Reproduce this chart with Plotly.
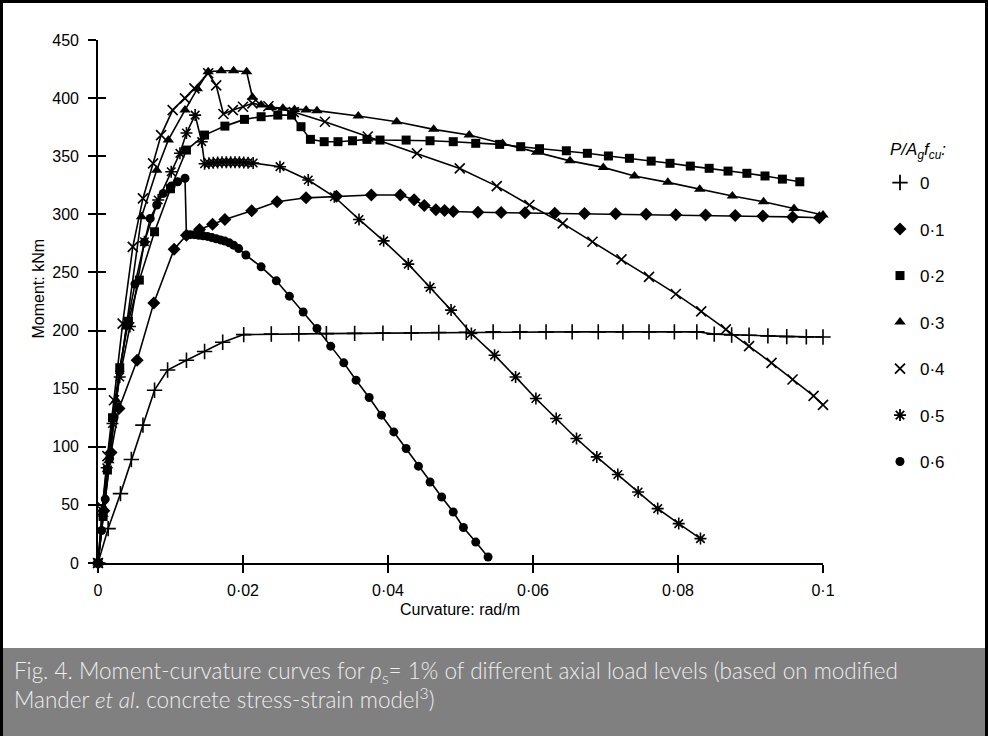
import plotly.graph_objects as go

# ---------------- data ----------------
x_tick_vals = [0, 0.02, 0.04, 0.06, 0.08, 0.1]
x_tick_text = ["0", "0·02", "0·04", "0·06", "0·08", "0·1"]
y_tick_vals = [0, 50, 100, 150, 200, 250, 300, 350, 400, 450]

labels = ["0", "0·1", "0·2", "0·3", "0·4", "0·5", "0·6"]

s0_x = [0, 0.0014, 0.0031, 0.0046, 0.0062, 0.0078, 0.0096, 0.0122, 0.0147, 0.0172, 0.0201,
        0.0239, 0.0277, 0.0315, 0.0354, 0.0393, 0.0432, 0.0470, 0.0508, 0.0545, 0.0582, 0.0618,
        0.0654, 0.0690, 0.0724, 0.0760, 0.0795, 0.0826, 0.0850, 0.0874, 0.0898, 0.0924, 0.0950,
        0.0977, 0.1000]
s0_y = [0, 29.6, 59.7, 89, 118.6, 148.7, 166, 174.5, 182, 190, 196.5,
        197, 197.2, 197.4, 197.6, 197.8, 198, 198.3, 198.6, 198.9, 198.9, 198.9,
        198.9, 198.9, 198.9, 198.9, 198.9, 198.9, 196.9, 196.2, 196, 195.4, 194.8,
        194.6, 194.5]

s1_x = [0, 0.0008, 0.0018, 0.0029, 0.0054, 0.0077, 0.0105, 0.0122, 0.0140, 0.0158, 0.0175,
        0.0212, 0.0247, 0.0287, 0.0329, 0.0377, 0.0417, 0.0436, 0.0450, 0.0466, 0.0478, 0.0490,
        0.0524, 0.0556, 0.0589, 0.0630, 0.0671, 0.0714, 0.0756, 0.0797, 0.0838, 0.0879, 0.0917,
        0.0958, 0.0995]
s1_y = [0, 45, 95, 133, 174.5, 223.8, 270, 282, 287, 291.5, 295.6,
        303, 310.8, 314.2, 315.5, 316.6, 316.6, 312.6, 307.5, 304, 303.3, 302.5,
        301.8, 301.5, 301.3, 301, 300.7, 300.4, 300, 299.7, 299.4, 299, 298.5,
        297.8, 297]

s2_x = [0, 0.0007, 0.0013, 0.0020, 0.0030, 0.0042, 0.0057, 0.0078, 0.0100, 0.0122, 0.0147,
        0.0175, 0.0202, 0.0225, 0.0248, 0.0267, 0.0280, 0.0293, 0.0312, 0.0331, 0.0351, 0.0371,
        0.0389, 0.0425, 0.0458, 0.0490, 0.0521, 0.0554, 0.0583, 0.0609, 0.0646, 0.0675, 0.0704,
        0.0733, 0.0763, 0.0789, 0.0817, 0.0843, 0.0869, 0.0895, 0.0920, 0.0944, 0.0968]
s2_y = [0, 40, 80, 125, 168, 208, 243.4, 285, 322, 355.3, 368.2,
        375.9, 381.7, 384, 385.4, 385.4, 375.4, 364.5, 362.5, 362.5, 363.3, 364.5,
        363.9, 363.9, 363.3, 362.5, 361.1, 360.2, 358.2, 356.5, 354.7, 352.5, 350.2,
        348.2, 345.8, 343.9, 341.5, 339.6, 337.2, 335.3, 333, 330.3, 328]

s3_x = [0, 0.0007, 0.0015, 0.0025, 0.0039, 0.0060, 0.0081, 0.0097, 0.0120, 0.0137, 0.0152,
        0.0170, 0.0187, 0.0205, 0.0213, 0.0225, 0.0239, 0.0255, 0.0271, 0.0287, 0.0302, 0.0359,
        0.0412, 0.0463, 0.0512, 0.0558, 0.0605, 0.0651, 0.0697, 0.0740, 0.0786, 0.0830, 0.0875,
        0.0918, 0.0960, 0.1000]
s3_y = [0, 42, 88, 140, 203, 298, 338, 364, 389.7, 408, 422.7,
        423.6, 423.6, 422.7, 400.7, 394, 392, 391.2, 390.3, 389.7, 389.2, 384.6,
        379.7, 373.1, 368.2, 361, 353.5, 346, 340.4, 333, 327.5, 321.5, 315.7,
        310.8, 305.1, 299.4]

s4_x = [0, 0.0006, 0.0013, 0.0022, 0.0034, 0.0048, 0.0062, 0.0076, 0.0087, 0.0103, 0.0120,
        0.0133, 0.0152, 0.0163, 0.0173, 0.0186, 0.0200, 0.0213, 0.0235, 0.0270, 0.0313, 0.0372,
        0.0440, 0.0499, 0.0550, 0.0595, 0.0641, 0.0682, 0.0722, 0.0760, 0.0797, 0.0832, 0.0866,
        0.0898, 0.0929, 0.0958, 0.0987, 0.1000]
s4_y = [0, 48, 92, 140, 206, 272, 313.7, 343.9, 368.2, 389.7, 399.8,
        408.4, 421.4, 411, 386.3, 389.7, 392.6, 395.5, 393, 388, 379.7, 367,
        352.5, 339.5, 324.3, 308, 292.2, 276.4, 261.2, 246.2, 231.5, 216.5, 201,
        186.6, 172.2, 157.9, 143.8, 136]

s5_x = [0, 0.0006, 0.0012, 0.0020, 0.0030, 0.0044, 0.0064, 0.0083, 0.0101, 0.0113, 0.0122,
        0.0134, 0.0143, 0.0147, 0.0153, 0.0159, 0.0165, 0.0171, 0.0177, 0.0183, 0.0189, 0.0195,
        0.0201, 0.0207, 0.0214, 0.0251, 0.0290, 0.0326, 0.0360, 0.0394, 0.0428, 0.0458, 0.0487,
        0.0515, 0.0547, 0.0576, 0.0604, 0.0632, 0.0660, 0.0688, 0.0717, 0.0745, 0.0772, 0.0801,
        0.0831]
s5_y = [0, 45, 82, 120, 160, 203.5, 276.4, 312.3, 336.6, 352.5, 370,
        385.4, 362.5, 343.5, 344, 344.4, 344.6, 344.8, 344.8, 344.8, 344.8, 344.8,
        344.6, 344.4, 344.2, 341, 329.5, 315.1, 295.6, 277.2, 257.2, 237.1, 217.6,
        197.5, 178.8, 160.1, 141.5, 124.3, 107.1, 91.3, 76.1, 61.1, 46.8, 33.9,
        21]

s6_x = [0, 0.0005, 0.0010, 0.0016, 0.0022, 0.0030, 0.0040, 0.0051, 0.0064, 0.0072, 0.0081,
        0.0090, 0.0101, 0.0110, 0.0120, 0.0122, 0.0127, 0.0133, 0.0139, 0.0145, 0.0151, 0.0157,
        0.0163, 0.0169, 0.0175, 0.0181, 0.0187, 0.0194, 0.0204, 0.0225, 0.0246, 0.0264, 0.0283,
        0.0302, 0.0321, 0.0339, 0.0356, 0.0374, 0.0391, 0.0408, 0.0425, 0.0442, 0.0458, 0.0474,
        0.0490, 0.0504, 0.0521, 0.0538]
s6_y = [0, 28, 55, 90, 125, 165, 205, 240, 276, 296.5, 308,
        318, 324.3, 328, 331, 282, 282.5, 282.5, 282, 281.5, 281, 280,
        279, 278, 277, 275.5, 273.5, 270.5, 265, 254.8, 242.8, 229.6, 216,
        201.8, 186.6, 172.2, 157.3, 142.4, 127.2, 112.8, 98.5, 83.3, 69.7, 56.8,
        43.9, 30.5, 18, 5.2]

xs_all = [s0_x, s1_x, s2_x, s3_x, s4_x, s5_x, s6_x]
ys_all = [s0_y, s1_y, s2_y, s3_y, s4_y, s5_y, s6_y]

caption = ("Fig. 4. Moment-curvature curves for <i>ρ</i><sub>s</sub>= 1% of different axial load levels (based on modified"
           "<br>Mander <i>et al</i>. concrete stress-strain model<sup>3</sup>)")

# ---------------- styling ----------------
symbols = ["cross-thin", "diamond", "square", "triangle-up", "x-thin", "asterisk", "circle"]
sizes = [11, 10, 9, 10, 10, 10, 9]
thin = [True, False, False, False, True, True, False]

W, H = 988, 736
L, R, T, B = 98, 165, 40, 173
PW, PH = W - L - R, H - T - B


def px_x(px):
    return (px - L) / PW


def px_y(py):
    return (H - B - py) / PH


FONT = "Liberation Sans, Arial, sans-serif"

fig = go.Figure()
for i in range(7):
    mk = dict(symbol=symbols[i], size=sizes[i], color="black",
              line=dict(color="black", width=1.6 if thin[i] else 0))
    fig.add_trace(go.Scatter(x=xs_all[i], y=ys_all[i], mode="lines+markers",
                             line=dict(color="black", width=1.6), marker=mk,
                             cliponaxis=False, showlegend=False, hoverinfo="skip"))
for i in range(7):
    mk = dict(symbol=symbols[i], size=sizes[i], color="black",
              line=dict(color="black", width=1.8 if thin[i] else 0))
    fig.add_trace(go.Scatter(x=[None], y=[None], mode="markers", marker=mk,
                             name=labels[i], legendgroup=labels[i], showlegend=True))
# helper trace for the overlay axes (inner half of the crossing ticks)
fig.add_trace(go.Scatter(x=[None], y=[None], xaxis="x2", yaxis="y2",
                         showlegend=False, hoverinfo="skip"))

axis_common = dict(showgrid=False, zeroline=False, tickcolor="black", tickwidth=1.6)
fig.update_layout(
    width=W, height=H,
    margin=dict(l=L, r=R, t=T, b=B),
    paper_bgcolor="white", plot_bgcolor="white",
    font=dict(family=FONT, size=16, color="black"),
    xaxis=dict(range=[0, 0.1], tickvals=x_tick_vals, ticktext=x_tick_text,
               ticks="outside", ticklen=8, showline=True, linecolor="black", linewidth=1.6,
               ticklabelstandoff=4, tickfont=dict(size=16), **axis_common),
    yaxis=dict(range=[0, 450], tickvals=y_tick_vals, ticks="outside", ticklen=8,
               showline=True, linecolor="black", linewidth=1.6,
               ticklabelstandoff=6, tickfont=dict(size=16), **axis_common),
    xaxis2=dict(range=[0, 0.1], tickvals=x_tick_vals, ticks="inside", ticklen=8,
                showticklabels=False, showline=False, overlaying="x", anchor="y",
                side="bottom", **axis_common),
    yaxis2=dict(range=[0, 450], tickvals=y_tick_vals, ticks="inside", ticklen=8,
                showticklabels=False, showline=False, overlaying="y", anchor="x",
                side="left", **axis_common),
    legend=dict(x=px_x(880), xanchor="left", y=px_y(165), yanchor="top",
                bgcolor="rgba(0,0,0,0)", font=dict(size=17), tracegroupgap=21.4,
                traceorder="grouped", itemsizing="trace"),
    showlegend=True,
)

cap_font = dict(family="Lato, Open Sans, sans-serif", size=22.5, color="#ededed", weight=300)
annotations = [
    dict(text="Moment: kNm", x=px_x(27), y=px_y(289), xref="paper", yref="paper",
         textangle=-90, showarrow=False, font=dict(size=16)),
    dict(text="Curvature: rad/m", x=px_x(460), y=px_y(620), xref="paper", yref="paper",
         showarrow=False, font=dict(size=16)),
    dict(text="<i>P/A<sub>g</sub>f<sub>cu</sub>:</i>", x=px_x(888), y=px_y(138),
         xref="paper", yref="paper", xanchor="left", showarrow=False, font=dict(size=17)),
    dict(text=caption, x=px_x(12), y=px_y(685), xref="paper", yref="paper",
         xanchor="left", yanchor="middle", align="left", showarrow=False, font=cap_font),
]
fig.update_layout(annotations=annotations)

shapes = [
    dict(type="rect", xref="paper", yref="paper", x0=px_x(0), x1=px_x(W), y0=px_y(H), y1=px_y(648),
         fillcolor="#808080", line=dict(width=0), layer="below"),
    dict(type="line", xref="paper", yref="paper", x0=px_x(1.5), x1=px_x(1.5), y0=px_y(0), y1=px_y(H),
         line=dict(color="black", width=3)),
    dict(type="line", xref="paper", yref="paper", x0=px_x(W - 1.5), x1=px_x(W - 1.5), y0=px_y(0), y1=px_y(H),
         line=dict(color="black", width=3)),
    dict(type="line", xref="paper", yref="paper", x0=px_x(0), x1=px_x(W), y0=px_y(1.5), y1=px_y(1.5),
         line=dict(color="black", width=3)),
]
fig.update_layout(shapes=shapes)

fig.write_html("out.html")
